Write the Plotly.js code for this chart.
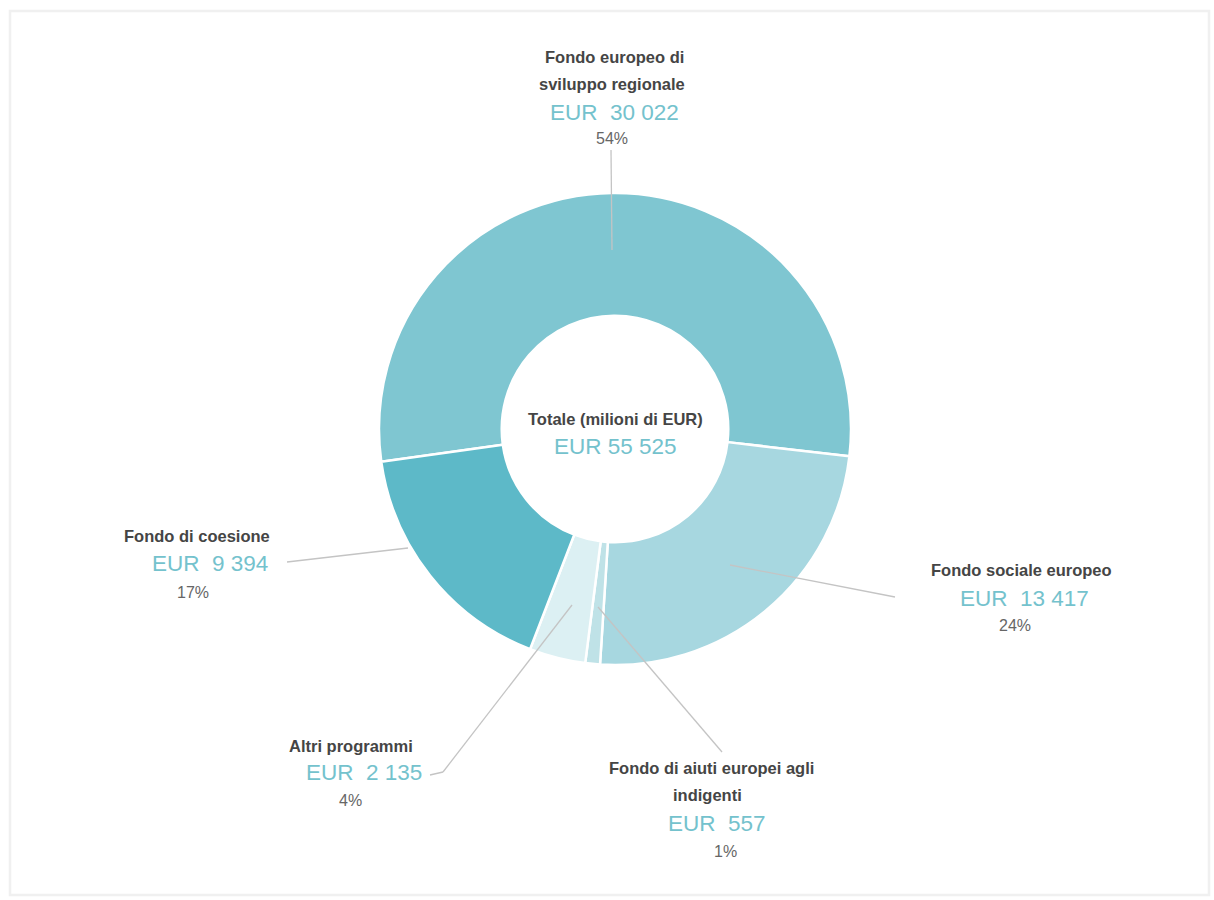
<!DOCTYPE html>
<html>
<head>
<meta charset="utf-8">
<script src="https://cdn.plot.ly/plotly-3.0.1.min.js"></script>
<style>
  html, body { margin: 0; padding: 0; background: #ffffff; }
  #chart { width: 1214px; height: 900px; }
</style>
</head>
<body>
<div id="chart"></div>
<script>
// ---- data (milioni di EUR) ----
var categories = [
  "Fondo europeo di sviluppo regionale",
  "Fondo sociale europeo",
  "Fondo di aiuti europei agli indigenti",
  "Altri programmi",
  "Fondo di coesione"
];
var values = [30022, 13417, 557, 2135, 9394];
var totalLabel = "Totale (milioni di EUR)";
var currency = "EUR";

// ---- styling ----
var sliceColors = ["#7fc6d1", "#a7d7e0", "#bfe2e7", "#dcf0f3", "#5db9c8"];
var W = 1214, H = 900;
var labelFont = "Liberation Sans, Arial, sans-serif";
var darkText = "#454545";
var tealText = "#74c2cd";
var pctText = "#666666";

// word index after which a label breaks to a new line (layout only)
var breakAfterWords = [3, null, 5, null, null];

// label placement (pixel positions) per slice: lines of name, value line, percent line
var place = [
  {name: [[614, 57], [612, 84]], val: [614, 113], pct: [612, 138]},
  {name: [[1021, 570]], val: [1024, 598], pct: [1015, 625]},
  {name: [[711, 768], [707, 795]], val: [717, 823], pct: [725, 851]},
  {name: [[351, 746]], val: [364, 772], pct: [350, 800]},
  {name: [[197, 536]], val: [210, 563], pct: [193, 592]}
];
// leader line polylines (pixel positions)
var leaders = [
  [[611, 150], [612, 250]],
  [[730, 565], [895, 597]],
  [[598, 607], [722, 752]],
  [[572, 605], [443, 772], [430, 775]],
  [[408, 548], [287, 562]]
];

function fmt(v) {
  var s = String(Math.round(v));
  var out = "";
  while (s.length > 3) {
    out = "\u00a0" + s.slice(-3) + out;
    s = s.slice(0, -3);
  }
  return s + out;
}
function px(x) { return x / W; }
function py(y) { return 1 - y / H; }

var total = values.reduce(function (a, b) { return a + b; }, 0);

var trace = {
  type: "pie",
  labels: categories,
  values: values,
  sort: false,
  direction: "clockwise",
  rotation: -98,
  hole: 0.48,
  textinfo: "none",
  hoverinfo: "label+value+percent",
  marker: {colors: sliceColors, line: {color: "#ffffff", width: 2.5}},
  domain: {x: [379 / W, 851 / W], y: [235 / H, 707 / H]},
  showlegend: false
};

var annotations = [];
function addText(t, pos, size, color, bold) {
  annotations.push({
    text: bold ? "<b>" + t + "</b>" : t,
    x: px(pos[0]), y: py(pos[1]),
    xref: "paper", yref: "paper",
    xanchor: "center", yanchor: "middle",
    showarrow: false,
    font: {family: labelFont, size: size, color: color}
  });
}

categories.forEach(function (c, i) {
  var words = c.split(" ");
  var lines = breakAfterWords[i]
    ? [words.slice(0, breakAfterWords[i]).join(" "), words.slice(breakAfterWords[i]).join(" ")]
    : [c];
  lines.forEach(function (ln, k) { addText(ln, place[i].name[k], 16.5, darkText, true); });
  addText(currency + "\u00a0\u00a0" + fmt(values[i]), place[i].val, 22.5, tealText, false);
  addText(Math.round(values[i] / total * 100) + "%", place[i].pct, 16, pctText, false);
});

// centre text
addText(totalLabel, [615, 419], 16.5, darkText, true);
addText(currency + " " + fmt(total), [615, 447], 22.5, tealText, false);

var shapes = [{
  type: "rect", xref: "paper", yref: "paper",
  x0: px(10), x1: px(1209), y0: py(11), y1: py(895),
  line: {color: "#f0f0f0", width: 2.5}, fillcolor: "rgba(0,0,0,0)", layer: "below"
}];
leaders.forEach(function (pts) {
  for (var k = 0; k < pts.length - 1; k++) {
    shapes.push({
      type: "line", xref: "paper", yref: "paper",
      x0: px(pts[k][0]), y0: py(pts[k][1]),
      x1: px(pts[k + 1][0]), y1: py(pts[k + 1][1]),
      line: {color: "#c4c4c4", width: 1.3}, layer: "above"
    });
  }
});

var layout = {
  width: W, height: H,
  margin: {l: 0, r: 0, t: 0, b: 0},
  paper_bgcolor: "#ffffff",
  plot_bgcolor: "#ffffff",
  showlegend: false,
  annotations: annotations,
  shapes: shapes
};

Plotly.newPlot("chart", [trace], layout, {displayModeBar: false, staticPlot: true});
</script>
</body>
</html>
